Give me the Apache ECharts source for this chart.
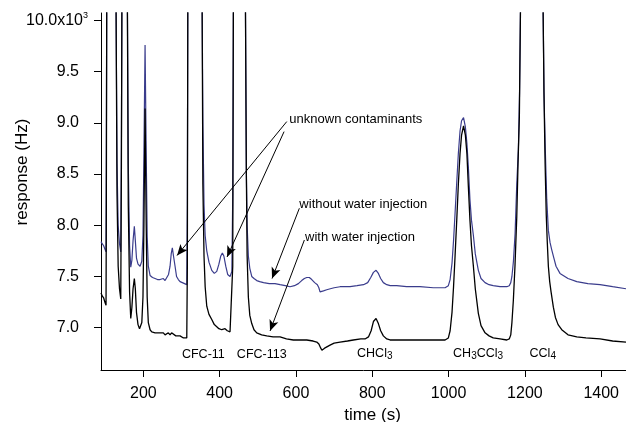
<!DOCTYPE html>
<html><head><meta charset="utf-8">
<script src="https://cdn.jsdelivr.net/npm/echarts@6/dist/echarts.min.js"></script>
<style>html,body{margin:0;padding:0;background:#fff}#c{width:626px;height:422px}</style>
</head><body><div id="c"></div>
<script>
const xTicks = [200, 400, 600, 800, 1000, 1200, 1400];
const yTicks = [7.0, 7.5, 8.0, 8.5, 9.0, 9.5, 10.0];

// without water injection (blue), response in 10^3 Hz
const blueTime = [89.1,92,96,100,102.2,103,104,112,128.4,131,134,137.5,140.8,142.5,143.8,151,158.1,160.5,163.9,167,170,173,176.4,179,182,186,191.4,196,199,201.5,204.5,207.5,210,213,217.6,224,230.7,237,243.8,248.2,252.4,256.9,261.3,266,270,273,276,279,283.1,287,291.7,296.2,302.2,308,313.8,315.3,316.5,335,354,356,359,362,366.2,372,379.3,386,392.4,398,403,407.1,411,416,421,427.2,432,434.3,436,452,467.5,470,472,475.2,479,484.1,490,497.2,505,515,530,545,558.3,572,584.5,596,606.3,615,622,628.3,635,641.4,649,656.1,660,663.1,667.6,672,680.7,690,700,715.6,730,741.8,760,777,788,796,803,810,816,822,829,838,847,864,890,925,960,990.8,999.4,1004,1009,1013,1017,1021.4,1025.6,1030,1034,1039.2,1044,1048,1051.8,1056,1060,1065,1070,1078,1085,1095.6,1106,1117,1135,1152.5,1159,1163,1166,1170,1174.3,1178.7,1182.9,1186,1188.7,1218,1247.5,1250,1253,1257.3,1261.5,1266,1270.4,1276,1281.6,1292,1313,1336,1365,1397,1430,1465];
const blueResp = [7.84,7.82,7.80,7.76,7.74,8.6,10.2,16,10.2,8.6,8.0,7.82,7.74,8.8,10.2,16,10.2,8.6,7.8,7.59,7.66,7.85,7.99,7.85,7.68,7.62,7.60,7.65,7.9,8.7,9.76,8.7,7.9,7.6,7.51,7.49,7.48,7.47,7.47,7.48,7.48,7.46,7.46,7.52,7.60,7.72,7.78,7.70,7.60,7.50,7.47,7.45,7.44,7.43,7.42,8.2,10.2,16,10.2,9.0,8.2,7.9,7.75,7.64,7.56,7.53,7.55,7.62,7.70,7.73,7.70,7.60,7.52,7.50,7.55,8.3,10.2,16,10.2,8.5,8.0,7.70,7.58,7.50,7.48,7.46,7.45,7.44,7.43,7.43,7.42,7.41,7.40,7.41,7.43,7.46,7.48,7.49,7.49,7.47,7.44,7.42,7.39,7.35,7.34,7.36,7.37,7.38,7.39,7.40,7.40,7.40,7.41,7.42,7.44,7.49,7.54,7.56,7.53,7.48,7.44,7.42,7.41,7.41,7.40,7.40,7.39,7.39,7.41,7.47,7.63,7.85,8.12,8.42,8.7,8.92,9.02,9.05,8.96,8.8,8.57,8.25,8.05,7.9,7.72,7.56,7.48,7.44,7.42,7.41,7.40,7.40,7.41,7.44,7.50,7.65,7.92,8.4,8.74,9.3,10.2,16,10.2,9.3,8.8,8.25,7.95,7.83,7.76,7.68,7.60,7.53,7.48,7.45,7.43,7.42,7.40,7.38];

// with water injection (black)
const blackTime = [89.1,92,96,100,102.2,103,104,112,128.4,131,134,137.5,140.8,142.5,143.8,151,158.1,160.5,163.9,167,170,173,176.4,179,182,186,190,193.2,196,199,201.5,204.5,207.5,210,213,217.6,222,230.7,235.1,243.8,248.2,252.4,256.9,261.3,265.5,270,274,278.6,285,296.2,305,313.8,315.3,316.5,335,354,356,359,362,366.2,372,379.3,386,392.4,398,405.5,414.1,420,427.2,432,434.3,436,452,467.5,470,472,475.2,479,484.1,490,497.2,510,523.4,540,558.3,575,593.2,610,628.3,645,654.5,660,665,668,675,689.3,700,715.6,735,750.4,770,781,790,797,803,809.9,816,822,829,838,846.6,870,900,925,960,990.8,999.4,1004,1009,1013,1017,1021.4,1025.6,1030,1034,1039.2,1044,1048,1051.8,1056,1060,1065,1070,1078,1085,1095.6,1106,1117,1135,1152.5,1159,1163,1166,1169.8,1174,1178.7,1182,1185.5,1188.7,1218,1247.5,1250,1253,1256,1258.5,1261.5,1265,1268.6,1274.6,1280,1287,1296.6,1313,1336,1360,1397,1430,1465];
const blackResp = [7.34,7.31,7.29,7.24,7.22,8.2,10.2,16,10.2,8.3,7.6,7.38,7.28,8.6,10.2,16,10.2,8.2,7.35,7.09,7.2,7.38,7.48,7.38,7.15,7.03,6.99,6.99,7.05,7.3,8.0,9.14,8.0,7.3,7.05,6.98,6.96,6.95,6.94,6.95,6.96,6.95,6.93,6.94,6.95,6.93,6.95,6.94,6.92,6.92,6.90,6.90,7.6,10.2,16,10.2,8.4,7.7,7.4,7.21,7.13,7.08,7.03,7.01,6.99,6.98,6.99,6.97,6.96,6.97,7.6,10.2,16,10.2,8.5,7.7,7.30,7.12,7.04,6.98,6.95,6.93,6.92,6.91,6.91,6.89,6.88,6.88,6.88,6.87,6.86,6.84,6.80,6.78,6.80,6.83,6.85,6.86,6.87,6.88,6.89,6.89,6.91,6.97,7.06,7.09,7.04,6.97,6.92,6.89,6.88,6.88,6.88,6.88,6.88,6.88,6.90,6.97,7.15,7.4,7.7,8.05,8.4,8.7,8.88,8.97,8.88,8.7,8.38,8.05,7.8,7.60,7.38,7.14,7.02,6.95,6.92,6.90,6.89,6.88,6.89,6.93,7.05,7.27,7.6,8.08,8.6,9.06,10.2,16,10.2,9.3,8.6,8.1,7.85,7.60,7.45,7.35,7.20,7.10,7.03,6.98,6.93,6.91,6.90,6.89,6.87,6.86];

// annotation arrows (data coords): from -> to
const arrowFrom = [[575.9, 9.012], [568.8, 8.914], [608.9, 8.166], [622.0, 7.856]];
const arrowTo = [[288.3, 7.705], [419.4, 7.69], [537.3, 7.48], [532.1, 6.968]];
// annotation texts (left aligned, anchored at their left-middle)
const noteText = ['unknown contaminants', 'without water injection', 'with water injection'];
const notePos = [[582.7, 9.038], [608.9, 8.205], [623.8, 7.883]];
// compound labels (centred)
const compoundText = ['CFC-11', 'CFC-113', '{n|CHCl}{b|3}', '{n|CH}{b|3}{n|CCl}{b|3}', '{n|CCl}{b|4}'];
const compoundPos = [[357.3, 6.74], [510.3, 6.74], [806.5, 6.75], [1077.3, 6.75], [1246.8, 6.75]];

const FONT = '"Liberation Sans", Arial, Helvetica, sans-serif';
const pair = (ts, vs) => ts.map((t, i) => [t, vs[i]]);

const chart = echarts.init(document.getElementById('c'), null, {renderer: 'canvas'});
const markPts = [];
noteText.forEach((txt, i) => markPts.push({
  coord: notePos[i], symbolSize: 0,
  label: {show: true, position: 'inside', formatter: txt, align: 'left', verticalAlign: 'middle',
          color: '#000', fontSize: 13, fontFamily: FONT}
}));
compoundText.forEach((txt, i) => markPts.push({
  coord: compoundPos[i], symbolSize: 0,
  label: {show: true, position: 'inside', formatter: txt, align: 'center', verticalAlign: 'middle',
          color: '#000', fontSize: 12.5, fontFamily: FONT,
          rich: {n: {fontSize: 12.5, fontFamily: FONT, color: '#000'},
                 b: {fontSize: 10, fontFamily: FONT, color: '#000', padding: [6, 0, 0, 0]}}}
}));

chart.setOption({
  animation: false,
  backgroundColor: '#fff',
  grid: {left: 101, right: 0, top: 13, bottom: 52, outerBoundsMode: 'none', containLabel: false},
  xAxis: {
    type: 'value', min: 89, max: 1465,
    axisLine: {show: true, lineStyle: {color: '#000', width: 1}},
    axisTick: {show: true, customValues: xTicks, length: 7, lineStyle: {color: '#000', width: 1}},
    axisLabel: {customValues: xTicks, color: '#000', fontSize: 16, fontFamily: FONT, margin: 16,
                formatter: v => String(v)},
    splitLine: {show: false},
    name: 'time (s)', nameLocation: 'middle', nameGap: 32,
    nameTextStyle: {color: '#000', fontSize: 17, fontFamily: FONT, padding: [0, 0, 0, 18]}
  },
  yAxis: {
    type: 'value', min: 6.587, max: 10.072,
    axisLine: {show: true, lineStyle: {color: '#000', width: 1}},
    axisTick: {show: true, customValues: yTicks, length: 7, lineStyle: {color: '#000', width: 1}},
    axisLabel: {
      customValues: yTicks, color: '#000', margin: 13,
      formatter: v => Math.abs(v - 10) < 1e-9 ? '{a|10.0x10}{s|3}' : '{n|' + v.toFixed(1) + '}',
      rich: {
        a: {fontSize: 16, fontFamily: FONT, color: '#000'},
        s: {fontSize: 9, fontFamily: FONT, color: '#000', padding: [0, 0, 9, 0]},
        n: {fontSize: 16, fontFamily: FONT, color: '#000', padding: [0, 9, 0, 0]}
      }
    },
    splitLine: {show: false}
  },
  graphic: [{
    type: 'text', x: 22, y: 172, rotation: Math.PI / 2, silent: true,
    style: {text: 'response (Hz)', font: '17px ' + FONT, fill: '#000', align: 'center', verticalAlign: 'middle'}
  }],
  series: [
    {
      name: 'without water injection', type: 'line', data: pair(blueTime, blueResp),
      showSymbol: false, symbol: 'none', clip: true,
      lineStyle: {color: '#3a3c8c', width: 1.2}, z: 2
    },
    {
      name: 'with water injection', type: 'line', data: pair(blackTime, blackResp),
      showSymbol: false, symbol: 'none', clip: true,
      lineStyle: {color: '#000', width: 1.3}, z: 3,
      markLine: {
        silent: true, animation: false, symbol: ['none', 'arrow'], symbolSize: [7, 11],
        lineStyle: {color: '#000', width: 1, type: 'solid'}, label: {show: false},
        emphasis: {disabled: true},
        data: arrowFrom.map((f, i) => [{coord: f}, {coord: arrowTo[i]}])
      },
      markPoint: {silent: true, animation: false, symbol: 'circle', symbolSize: 0,
        itemStyle: {color: 'rgba(0,0,0,0)'}, data: markPts}
    }
  ]
});
</script></body></html>
